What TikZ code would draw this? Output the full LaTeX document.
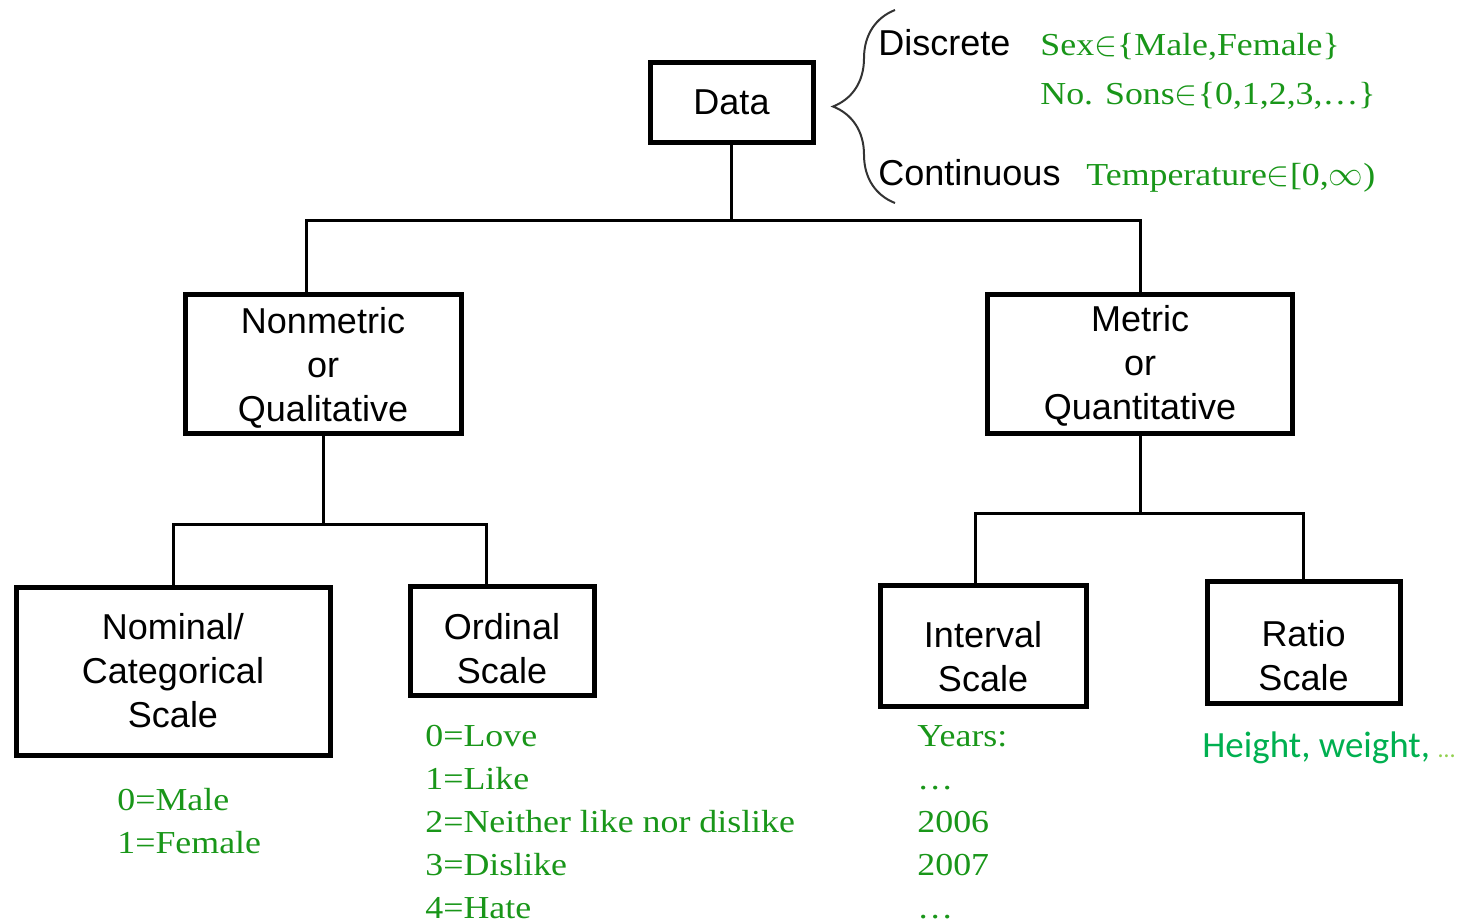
\documentclass[tikz,border=0pt]{standalone}
\usepackage{fontspec}
\setmainfont{Liberation Sans}
\newfontfamily\valserif[FakeStretch=1.12]{Liberation Serif}
\newfontfamily\notefont{Carlito}
\usetikzlibrary{positioning, calc, decorations.pathreplacing}
\definecolor{valgreen}{RGB}{25,150,25}
\definecolor{officegreen}{RGB}{0,176,80}
\definecolor{lightgreen}{RGB}{146,208,80}
% pushes a box's text down a little
\newcommand{\dropby}[1]{\rule{0pt}{\dimexpr 13.5pt+#1\relax}}

\tikzset{
  box/.style={draw, line width=2.5pt, align=center, inner sep=0pt, font=\fontsize{18}{22}\selectfont},
  link/.style={line width=1.5pt},
  kind/.style={anchor=base west, inner sep=0pt, font=\fontsize{18}{22}\selectfont},
  val/.style={anchor=base west, inner sep=0pt, align=left, text=valgreen, font=\valserif\fontsize{16}{21.5}\selectfont},
}

\begin{document}
\begin{tikzpicture}[x=0.5pt, y=-0.5pt]
  \useasboundingbox (0,0) rectangle (1465,923);

  % boxes
  \node[box, minimum width=81.5pt, minimum height=40pt] (data) at (731.5,102) {Data};
  \node[box, minimum width=138pt, minimum height=69.5pt] (nonmetric) at (323,363.5) {\dropby{4pt}Nonmetric\\or\\Qualitative};
  \node[box, minimum width=152.5pt, minimum height=69.5pt] (metric) at (1140,363.5) {\dropby{2pt}Metric\\or\\Quantitative};
  \node[box, minimum width=157pt, minimum height=84pt] (nominal) at (173,671) {Nominal/\\Categorical\\Scale};
  \node[box, minimum width=92pt, minimum height=54.5pt] (ordinal) at (502,640.5) {\dropby{8pt}Ordinal\\Scale};
  \node[box, minimum width=103pt, minimum height=60.5pt] (interval) at (983,645.5) {\dropby{11pt}Interval\\Scale};
  \node[box, minimum width=96.5pt, minimum height=61pt] (ratio) at (1303.5,642) {\dropby{13pt}Ratio\\Scale};

  % tree lines
  \draw[link] (data.south) -- ++(0,76) coordinate (top);
  \draw[link] ($(nonmetric.north)+(-17,0)$) |- (top) -| (metric.north);
  \draw[link] (nonmetric.south) -- ++(0,89) coordinate (midleft);
  \draw[link] (nominal.north) |- (midleft) -| ($(ordinal.north)+(-16,0)$);
  \draw[link] (metric.south) -- ++(0,78) coordinate (midright);
  \draw[link] ($(interval.north)+(-8,0)$) |- (midright) -| (ratio.north);

  % discrete / continuous
  \coordinate (brlow) at (895,203);
  \coordinate (brhigh) at (895,10);
  \draw[decorate, decoration={brace, amplitude=31pt}, line width=1pt, black!80] (brlow) -- (brhigh);
  \node[kind] (discrete) at (878,55) {Discrete};
  \node[kind] (continuous) at (878,185) {Continuous};
  \node[val] (sex) at (1040,55) {Sex$\in$\{Male,Female\}};
  \node[val] (sons) at (1040,104) {No. Sons$\in$\{0,1,2,3,…\}};
  \node[val] (temp) at (1086,185) {Temperature$\in$[0,$\infty$)};

  % examples (base = last line)
  \node[val] (nomvals) at (117,853) {0=Male\\1=Female};
  \node[val] (ordvals) at (425,918) {0=Love\\1=Like\\2=Neither like nor dislike\\3=Dislike\\4=Hate};
  \node[val] (years) at (917,918) {Years:\\…\\2006\\2007\\…};
  \node[anchor=base west, inner sep=0pt, text=officegreen, font=\notefont\fontsize{18.5}{22}\selectfont] (hw) at (1202,757) {Height, weight, {\color{lightgreen}\fontsize{12}{14}\selectfont …}};
\end{tikzpicture}
\end{document}
